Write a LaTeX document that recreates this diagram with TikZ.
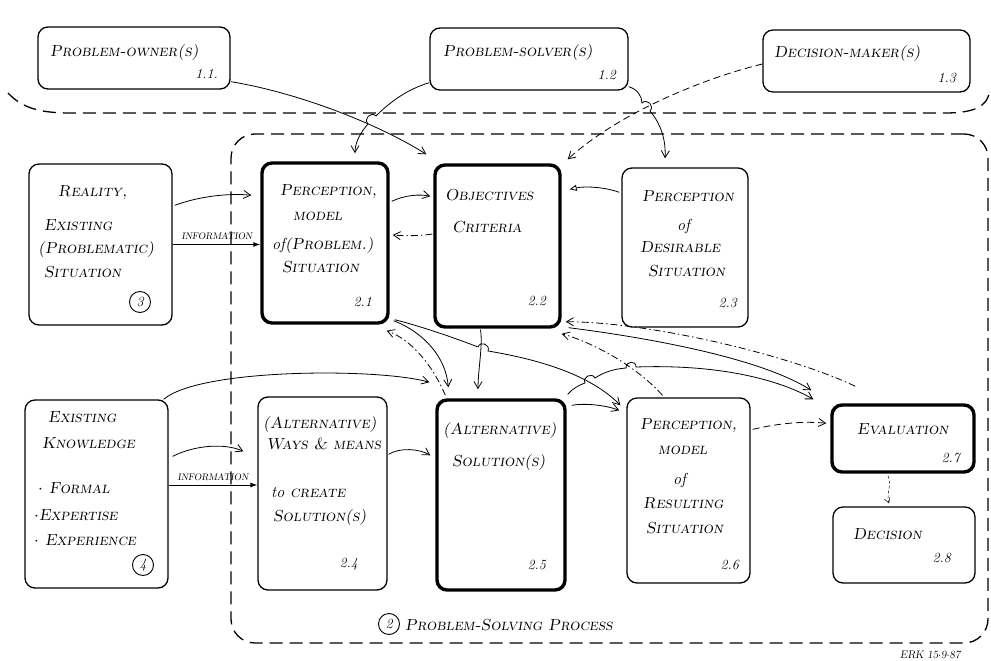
\documentclass[tikz,border=0pt]{standalone}
\usetikzlibrary{arrows.meta,calc,fit}
% lower-case script words inside the small-caps lettering
\newcommand\lc[1]{{\normalfont\fontsize{16}{19}\selectfont\itshape #1}}
\begin{document}
\begin{tikzpicture}[x=1pt,y=-1pt,
  box/.style={draw, rounded corners=10pt, line width=1.3pt, inner sep=0pt},
  keybox/.style={box, line width=3.4pt},
  txt/.style={font=\fontsize{16}{19}\selectfont\scshape\slshape, inner sep=0pt, anchor=base west},
  num/.style={font=\fontsize{14}{16}\selectfont\itshape, inner sep=0pt, anchor=base east},
  lab/.style={font=\fontsize{9.5}{11}\selectfont\slshape, inner sep=0pt, anchor=base},
  ring/.style={draw, circle, line width=0.9pt, inner sep=0pt, minimum size=21pt, font=\fontsize{14}{15}\selectfont\itshape},
  conn/.style={line width=0.8pt, -{Straight Barb[length=7pt,width=8pt]}},
  dashlink/.style={conn, dash pattern=on 7pt off 4pt},
  dotlink/.style={conn, dash pattern=on 7pt off 3pt on 1.5pt off 3pt},
  trilink/.style={line width=0.8pt, -{Triangle[open,length=7pt,width=6pt]}},
  thinlink/.style={line width=0.5pt, dash pattern=on 3pt off 2pt, -{Straight Barb[length=5pt,width=6pt]}},
  infolink/.style={line width=0.9pt, -{Latex[length=7pt,width=5pt]}},
  fence/.style={line width=1.3pt, dash pattern=on 13pt off 7pt},
]
\useasboundingbox (0,0) rectangle (991,661);

% ---- boundaries ----
\draw[fence] (8,93) .. controls (22,108) and (40,113) .. (70,113) -- (945,113) .. controls (975,113) and (986,106) .. (989,94);
\node[fence, draw, rounded corners=24pt, inner sep=0pt, fit={(231,134) (988,643)}] (p2) {};

% ---- actors ----
\node[box, fit={(38,27) (230,89)}] (b11) {};
\node[box, fit={(430,28) (628,90)}] (b12) {};
\node[box, fit={(763,30) (970,92)}] (b13) {};
\node[txt] (t11) at (50,57) {Problem-owner(s)};
\node[num] (n11) at (218,79) {1.1.};
\node[txt] (t12) at (443,57) {Problem-solver(s)};
\node[num] (n12) at (616,80) {1.2};
\node[txt] (t13) at (774,58) {Decision-maker(s)};
\node[num] (n13) at (956,82) {1.3};

% ---- middle row ----
\node[box, fit={(29,164) (172,325)}] (b3) {};
\node[keybox, fit={(262,163) (388,323)}] (b21) {};
\node[keybox, fit={(435,165) (560,327)}] (b22) {};
\node[box, fit={(622,168) (748,327)}] (b23) {};

\node[txt] (t3a) at (58,196) {Reality,};
\node[txt] (t3b) at (44,230) {Existing};
\node[txt] (t3c) at (38,253) {(Problematic)};
\node[txt] (t3d) at (44,277) {Situation};
\node[ring] (c3) at (140,302) {3};

\node[txt] (t21a) at (280,195) {Perception,};
\node[txt] (t21b) at (293,220) {model};
\node[txt] (t21c) at (272,249) {\lc{of}(Problem.)};
\node[txt] (t21d) at (282,272) {Situation};
\node[num] (n21) at (372,306) {2.1};

\node[txt] (t22a) at (445,200) {Objectives};
\node[txt] (t22b) at (452,232) {Criteria};
\node[num] (n22) at (546,305) {2.2};

\node[txt] (t23a) at (642,201) {Perception};
\node[txt] (t23b) at (677,230) {\lc{of}};
\node[txt] (t23c) at (640,252) {Desirable};
\node[txt] (t23d) at (648,276) {Situation};
\node[num] (n23) at (737,307) {2.3};

% ---- bottom row ----
\node[box, fit={(25,400) (168,588)}] (b4) {};
\node[box, fit={(258,397) (387,590)}] (b24) {};
\node[keybox, fit={(437,400) (565,590)}] (b25) {};
\node[box, fit={(627,398) (750,583)}] (b26) {};
\node[keybox, fit={(832,405) (974,472)}] (b27) {};
\node[box, fit={(833,507) (975,583)}] (b28) {};

\node[txt] (t4a) at (48,422) {Existing};
\node[txt] (t4b) at (42,448) {Knowledge};
\node[txt] (t4c) at (38,493) {$\cdot$ Formal};
\node[txt] (t4d) at (34,520) {$\cdot$Expertise};
\node[txt] (t4e) at (34,545) {$\cdot$ Experience};
\node[ring] (c4) at (143,565) {4};

\node[txt] (t24a) at (263,428) {(Alternative)};
\node[txt] (t24b) at (266,449) {Ways \& means};
\node[txt] (t24c) at (271,497) {\lc{to} create};
\node[txt] (t24d) at (273,521) {Solution(s)};
\node[num] (n24) at (358,567) {2.4};

\node[txt] (t25a) at (443,434) {(Alternative)};
\node[txt] (t25b) at (452,466) {Solution(s)};
\node[num] (n25) at (546,569) {2.5};

\node[txt] (t26a) at (640,429) {Perception,};
\node[txt] (t26b) at (658,454) {model};
\node[txt] (t26c) at (673,484) {\lc{of}};
\node[txt] (t26d) at (643,508) {Resulting};
\node[txt] (t26e) at (646,533) {Situation};
\node[num] (n26) at (739,569) {2.6};

\node[txt] (t27) at (857,434) {Evaluation};
\node[num] (n27) at (960,462) {2.7};
\node[txt] (t28) at (853,539) {Decision};
\node[num] (n28) at (951,562) {2.8};

% ---- process caption and signature ----
\node[ring] (c2) at (389,624) {2};
\node[txt] (t2) at (405,630) {Problem-Solving Process};
\node[txt, font=\fontsize{11}{13}\selectfont\slshape] (sig) at (900,658) {ERK 15$\cdot$9$\cdot$87};

% ---- actors into the process ----
\draw[conn] ($(b11.south east)+(0,-8)$) .. controls (300,93) and (380,125) .. ($(b22.north west)+(-7,-9)$);
\draw[conn] ($(b12.south west)+(0,-8)$) .. controls (405,90) and (388,104) .. (376,116)
  .. controls (371,111) and (363,119) .. (368,124)
  .. controls (360,133) and (355,143) .. ($(b21.north)+(30,-8)$);
\draw[dashlink] ($(b13.west)+(0,3)$) .. controls (705,78) and (620,112) .. ($(b22.north east)+(6,-4)$);
\draw[conn] ($(b12.south east)+(0,-4)$) .. controls (637,89) and (642,96) .. (642,103)
  .. controls (647,98) and (655,106) .. (650,111)
  .. controls (661,124) and (666,140) .. ($(b23.north)+(-20,-9)$);

% ---- information inputs ----
\draw[conn] ($(b3.north east)+(2,42)$) .. controls (200,196) and (230,193) .. ($(b21.north west)+(-9,34)$);
\draw[infolink] (b3.east) -- (b3.east -| b21.west);
\node[lab] (i1) at (217,239) {INFORMATION};

\draw[conn] ($(b4.north east)+(4,57)$) .. controls (195,445) and (225,443) .. ($(b24.north west)+(-14,55)$);
\coordinate (k4) at ($(b4.east)+(0,-9)$);
\draw[infolink] (k4) -- (k4 -| b24.west);
\node[lab] (i2) at (213,480) {INFORMATION};
\draw[conn] ($(b4.north east)+(-5,0)$) .. controls (200,368) and (380,368) .. ($(b25.north west)+(-6,-16)$);

% ---- links inside the process ----
\draw[conn] ($(b21.north east)+(2,40)$) .. controls (405,195) and (420,194) .. ($(b22.north west)+(-3,33)$);
\draw[dotlink] ($(b22.west)+(-1,-12)$) .. controls (420,236) and (405,236) .. ($(b21.east)+(3,-8)$);
\draw[trilink] ($(b23.north west)+(-2,25)$) .. controls (605,187) and (585,186) .. ($(b22.north east)+(8,26)$);

\draw[conn] ($(b21.south east)+(4,-4)$) .. controls (425,333) and (446,358) .. ($(b25.north west)+(13,-11)$);
\draw[dotlink] ($(b25.north west)+(10,-3)$) .. controls (433,366) and (412,340) .. ($(b21.south east)+(-3,6)$);
\draw[conn] ($(b22.south)+(-17,1)$) .. controls (483,345) and (478,370) .. ($(b25.north)+(-23,-9)$);
\draw[conn] ($(b21.south east)+(5,-5)$) .. controls (420,326) and (455,338) .. (478,347)
  .. controls (480.5,340.5) and (490.5,344.5) .. (488,351)
  .. controls (530,358) and (588,372) .. ($(b26.north west)+(-6,8)$);

\draw[conn] ($(b25.north east)+(1,-4)$) .. controls (572,389) and (579,385) .. (585,383)
  .. controls (582,377) and (592,372) .. (595,378)
  .. controls (604,372) and (614,369) .. (626,368)
  .. controls (626,361) and (636,360) .. (636,367)
  .. controls (720,364) and (780,380) .. ($(b27.north west)+(-17,-4)$);
\draw[conn] ($(b22.south east)+(7,-1)$) .. controls (650,338) and (760,358) .. ($(b27.north west)+(-19,-13)$);
\draw[dotlink] ($(b26.north)+(-26,-2)$) .. controls (640,370) and (600,345) .. ($(b22.south east)+(0,5)$);
\draw[dotlink] ($(b27.north west)+(25,-17)$) .. controls (790,355) and (650,322) .. ($(b22.south east)+(4,-7)$);

\draw[conn] ($(b24.north east)+(1,58)$) .. controls (400,447) and (420,449) .. ($(b25.north west)+(-5,57)$);
\draw[conn] ($(b25.north east)+(5,7)$) .. controls (585,403) and (605,405) .. ($(b26.north west)+(-7,13)$);
\draw[dashlink] ($(b26.north east)+(2,32)$) .. controls (780,423) and (805,421) .. ($(b27.north west)+(-4,20)$);
\draw[thinlink] ($(b27.south)+(-15,2)$) .. controls (892,485) and (886,495) .. ($(b28.north)+(-15,-3)$);
\end{tikzpicture}
\end{document}
